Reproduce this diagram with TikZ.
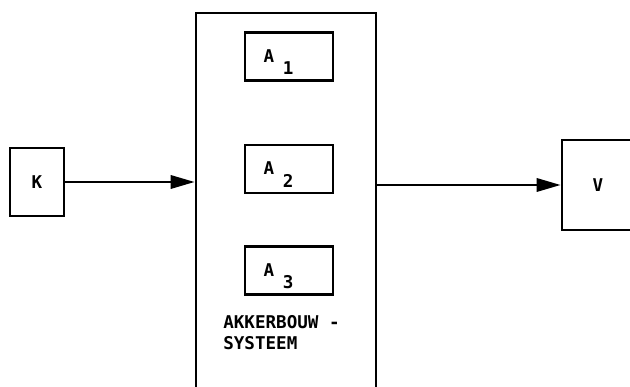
\documentclass[tikz,border=0pt]{standalone}
\usepackage{fontspec}
\setmonofont{DejaVu Sans Mono}
\usetikzlibrary{positioning,calc,arrows.meta}

\begin{document}
\begin{tikzpicture}[font=\ttfamily\bfseries\fontsize{12.5}{15}\selectfont]
\tikzset{
  blok/.style={draw=black, line width=2pt, fill=white, inner sep=0pt},
  deel/.style={blok, minimum width=2.2cm, minimum height=1.2cm},
  pijl/.style={line width=1.6pt, -{Triangle[length=17pt,width=9.5pt]}},
  lab/.style={inner sep=0pt}
}
\useasboundingbox (0,0) rectangle (15.75,9.675);
\clip (0,0) rectangle (15.75,9.675);
\node[blok, minimum width=1.35cm, minimum height=1.7cm] (k) at (0.925,5.125) {K};
\node[blok, minimum width=4.5cm, minimum height=9.85cm] (sys) at (7.15,4.425) {};
\node[blok, minimum width=1.8cm, minimum height=2.25cm] (v) at (14.95,5.05) {V};
\foreach \i/\y in {1/8.26,2/5.45,3/2.91}{
  \node[deel] (a\i) at (7.225,\y) {};
  \node[lab] (a\i l) at ($(a\i.center)+(-0.5,0.02)$) {A};
  \node[lab] (a\i n) at ($(a\i.center)+(-0.02,-0.29)$) {\i};
}
\node[lab, anchor=west, align=left] (naam) at (5.575,1.36) {AKKERBOUW -\\SYSTEEM};
\draw[pijl] (k.east) -- (k.east -| sys.west);
\draw[pijl] (v.west -| sys.east) -- (v.west);
\end{tikzpicture}
\end{document}
